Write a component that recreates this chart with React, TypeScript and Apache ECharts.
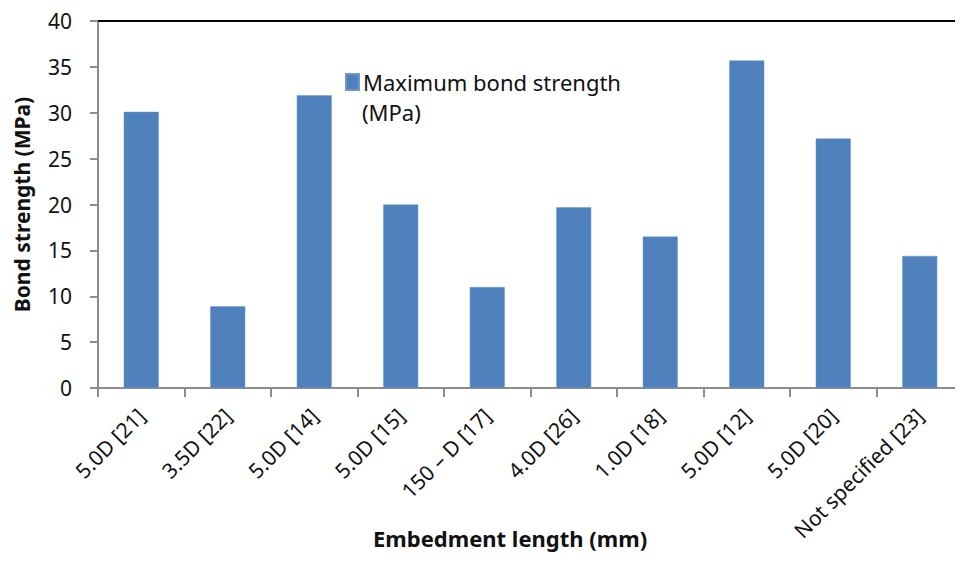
import React, { useEffect, useRef } from "react";
import * as echarts from "echarts";

const categories = [
  "5.0D [21]",
  "3.5D [22]",
  "5.0D [14]",
  "5.0D [15]",
  "150 – D [17]",
  "4.0D [26]",
  "1.0D [18]",
  "5.0D [12]",
  "5.0D [20]",
  "Not specified [23]",
];
const bondStrength = [30.1, 8.9, 31.9, 20.0, 11.0, 19.7, 16.5, 35.7, 27.2, 14.4];
const seriesName = "Maximum bond strength (MPa)";
const legendLine1 = "Maximum bond strength";
const legendLine2 = "(MPa)";
const yTitle = "Bond strength (MPa)";
const xTitle = "Embedment length (mm)";

const FONT = "'Noto Sans', 'Open Sans', sans-serif";

export default function App() {
  const ref = useRef<HTMLDivElement>(null);
  useEffect(() => {
    if (!ref.current) return;
    const chart = echarts.init(ref.current, undefined, { renderer: "svg" });
    chart.setOption({
      animation: false,
      backgroundColor: "#ffffff",
      textStyle: { fontFamily: FONT },
      grid: { left: 98, top: 21, right: -15, bottom: 175, containLabel: false },
      legend: {
        left: 340,
        top: 65,
        itemWidth: 13,
        itemHeight: 16,
        itemGap: 0,
        icon: "rect",
        formatter: () => legendLine1,
        textStyle: { fontFamily: FONT, fontSize: 22, lineHeight: 24, color: "#111", padding: [0, 0, 0, -1] },
        data: [seriesName],
      },
      xAxis: [
        {
          type: "category",
          data: categories,
          axisLine: { lineStyle: { color: "#8c8c8c", width: 2 } },
          axisTick: { show: true, alignWithLabel: false, length: 9, lineStyle: { color: "#8c8c8c", width: 2 } },
          axisLabel: {
            rotate: 45,
            interval: 0,
            fontFamily: FONT,
            fontSize: 21,
            color: "#111",
            margin: 24,
          },
        },
        {
          type: "category",
          position: "top",
          data: categories,
          axisLine: { show: true, lineStyle: { color: "#000", width: 2 } },
          axisTick: { show: false },
          axisLabel: { show: false },
        },
      ],
      yAxis: {
        type: "value",
        min: 0,
        max: 40,
        interval: 5,
        name: yTitle,
        nameLocation: "middle",
        nameGap: 66,
        nameTextStyle: { fontFamily: FONT, fontSize: 21, fontWeight: "bold", color: "#111" },
        axisLine: { show: true, lineStyle: { color: "#8c8c8c", width: 2 } },
        axisTick: { show: true, length: 8, lineStyle: { color: "#8c8c8c", width: 2 } },
        axisLabel: { fontFamily: FONT, fontSize: 21, color: "#111", margin: 26 },
        splitLine: { show: false },
      },
      graphic: [
        {
          type: "text",
          left: 362,
          top: 101,
          style: {
            text: legendLine2,
            font: `22px ${FONT}`,
            lineHeight: 22,
            fill: "#111",
          },
        },
        {
          type: "text",
          left: 523 - 150,
          top: 525,
          style: {
            text: xTitle,
            font: `bold 22px ${FONT}`,
            lineHeight: 26,
            fill: "#111",
            width: 300,
            align: "center",
          },
        },
      ],
      series: [
        {
          name: seriesName,
          type: "bar",
          data: bondStrength,
          barWidth: 35,
          itemStyle: { color: "#4f81bd", borderColor: "#6f97c9", borderWidth: 0.5 },
        },
      ],
    });
    return () => chart.dispose();
  }, []);
  return <div ref={ref} style={{ width: 963, height: 563, margin: -8 }} />;
}
